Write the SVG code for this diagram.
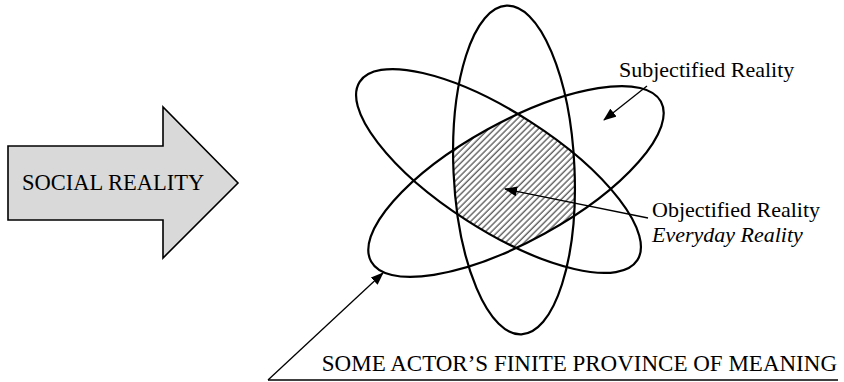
<svg xmlns="http://www.w3.org/2000/svg" width="844" height="382" viewBox="0 0 844 382">
<style>
.ell{fill:none;stroke:#000;stroke-width:2.2}
.lbl{font-family:"Liberation Serif","Times New Roman",serif;font-size:22px;fill:#000}
.con{stroke:#000;stroke-width:1.3;fill:none;marker-end:url(#ah)}
</style>
<defs>
<marker id="ah" viewBox="0 0 13 10" refX="12" refY="5" markerWidth="13" markerHeight="10" markerUnits="userSpaceOnUse" orient="auto">
<path d="M0,0 L13,5 L0,10 Z" fill="#000"/>
</marker>
<pattern id="hatch" patternUnits="userSpaceOnUse" width="4.4" height="10" patternTransform="rotate(45)">
<line x1="1" y1="0" x2="1" y2="10" stroke="#222" stroke-width="1"/>
</pattern>
<clipPath id="cV"><ellipse cx="514" cy="170" rx="60.5" ry="164.5" transform="rotate(-2.6 514 170)"/></clipPath>
<clipPath id="cA"><ellipse cx="498.5" cy="171" rx="165" ry="58.7" transform="rotate(32.7 498.5 171)"/></clipPath>
<clipPath id="cB"><ellipse cx="516" cy="181.5" rx="165.5" ry="59.4" transform="rotate(-28.9 516 181.5)"/></clipPath>
</defs>

<g id="social-reality">
<polygon points="8,146 163,146 163,107 238,183 163,258 163,220 8,220" fill="#d9d9d9" stroke="#000" stroke-width="1.6"/>
<text class="lbl" x="22" y="190" style="font-size:22.5px">SOCIAL REALITY</text>
</g>

<g id="objectified-region">
<g clip-path="url(#cV)"><g clip-path="url(#cA)"><g clip-path="url(#cB)">
<rect x="440" y="100" width="150" height="160" fill="url(#hatch)"/>
</g></g></g>
</g>

<g id="ellipse-vertical"><ellipse class="ell" cx="514" cy="170" rx="60.5" ry="164.5" transform="rotate(-2.6 514 170)"/></g>
<g id="ellipse-down"><ellipse class="ell" cx="498.5" cy="171" rx="165" ry="58.7" transform="rotate(32.7 498.5 171)"/></g>
<g id="ellipse-up"><ellipse class="ell" cx="516" cy="181.5" rx="165.5" ry="59.4" transform="rotate(-28.9 516 181.5)"/></g>

<g id="label-subjectified"><text class="lbl" x="619" y="77">Subjectified Reality</text></g>
<g id="label-objectified">
<text class="lbl" x="652" y="217">Objectified Reality</text>
<text class="lbl" x="652" y="242" font-style="italic">Everyday Reality</text>
</g>
<g id="label-province">
<text class="lbl" x="837" y="371" text-anchor="end" style="font-size:23px">SOME ACTOR’S FINITE PROVINCE OF MEANING</text>
<line x1="268" y1="380" x2="838" y2="380" stroke="#000" stroke-width="1.5"/>
</g>

<g id="connectors">
<line class="con" x1="647" y1="86" x2="604" y2="120"/>
<line class="con" x1="648" y1="218" x2="505" y2="189"/>
<line class="con" x1="268" y1="380" x2="383" y2="273"/>
</g>
</svg>
